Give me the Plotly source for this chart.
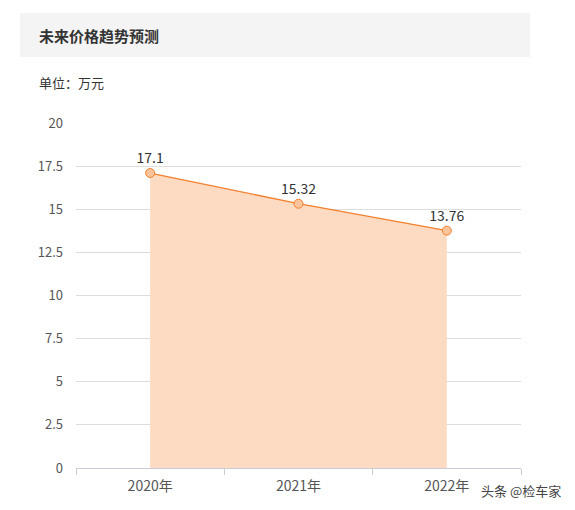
import plotly.graph_objects as go

years = ["2020年", "2021年", "2022年"]
prices = [17.1, 15.32, 13.76]
price_labels = ["17.1", "15.32", "13.76"]
y_ticks = [0, 2.5, 5, 7.5, 10, 12.5, 15, 17.5, 20]

font_family = "Noto Sans CJK SC, Microsoft YaHei, sans-serif"

fig = go.Figure()

fig.add_trace(go.Scatter(
    x=list(range(len(years))),
    y=prices,
    mode="lines+markers+text",
    text=price_labels,
    textposition="top center",
    textfont=dict(size=14, color="#333333"),
    fill="tozeroy",
    fillcolor="#fddbc3",
    line=dict(color="#f47f2c", width=1.3),
    marker=dict(size=9, color="#fcc49a", line=dict(color="#f47f2c", width=1)),
    cliponaxis=False,
    hoverinfo="skip",
))

fig.update_xaxes(
    range=[-0.5, 2.5],
    tickvals=list(range(len(years))),
    ticktext=years,
    ticks="",
    showgrid=False,
    showline=True,
    linecolor="#c8ccd4",
    linewidth=1,
    tickfont=dict(size=14, color="#555555"),
    ticklabelstandoff=5,
    minor=dict(tick0=0.5, dtick=1, ticks="outside", ticklen=6, tickcolor="#c8ccd4", showgrid=False),
    zeroline=False,
)
fig.update_yaxes(
    range=[0, 20],
    tickvals=y_ticks,
    ticktext=[str(v) for v in y_ticks],
    showgrid=True,
    gridcolor="#dddddd",
    zeroline=False,
    showline=False,
    tickfont=dict(size=13, color="#555555"),
    ticklabelstandoff=12,
)

fig.update_layout(
    width=575,
    height=510,
    margin=dict(l=68, r=62, t=115, b=50),
    paper_bgcolor="white",
    plot_bgcolor="white",
    showlegend=False,
    font=dict(family=font_family),
    shapes=[dict(
        type="rect", xref="paper", yref="paper",
        x0=-56 / 445, x1=454 / 445, y0=1 + 66 / 345, y1=1 + 110 / 345,
        fillcolor="#f4f4f4", line=dict(width=0), layer="below",
    )],
    annotations=[
        dict(text="<b>未来价格趋势预测</b>", xref="paper", yref="paper",
             x=-39 / 445, y=1 + 88 / 345, xanchor="left", yanchor="middle",
             showarrow=False, font=dict(size=15, color="#333333")),
        dict(text="单位：万元", xref="paper", yref="paper",
             x=-39 / 445, y=1 + 41 / 345, xanchor="left", yanchor="middle",
             showarrow=False, font=dict(size=13, color="#333333")),
        dict(text="头条 @检车家", xref="paper", yref="paper",
             x=1 + 42 / 445, y=-22 / 345, xanchor="right", yanchor="middle",
             showarrow=False, font=dict(size=13, color="#444444")),
    ],
)

fig.write_html("out.html")
